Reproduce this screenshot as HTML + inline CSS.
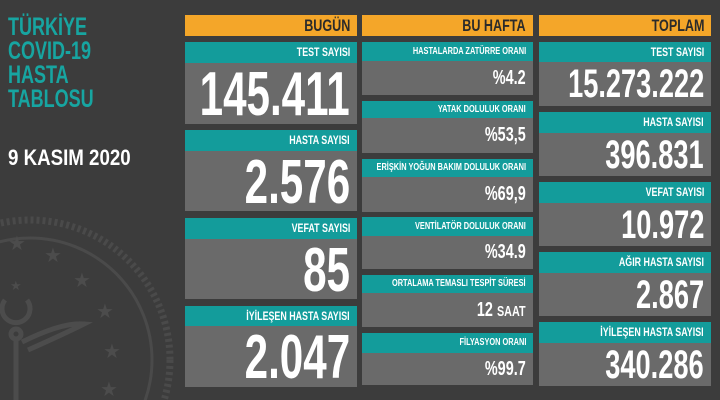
<!DOCTYPE html>
<html style="overflow:hidden"><head><meta charset="utf-8"><style>
*{margin:0;padding:0;box-sizing:border-box}
body{width:720px;height:400px;background:#3c3c3c;position:relative;overflow:hidden;font-family:"Liberation Sans",sans-serif;font-weight:bold}
.a{position:absolute}
.h,.t,.g{white-space:nowrap;overflow:hidden}
.h{background:#f4a629;color:#2b2b2b;font-size:17px;line-height:21px;height:21px}
.t{background:#139c9b;color:#fff}
.g{background:#6a6a6a;color:#fff}
.h span,.t span,.g span{position:absolute;right:7px;top:0;display:block;transform-origin:right center}
.h span,.t span{transform:scaleX(.74)}
.g span{transform:scaleX(.72)}
.g span.n{transform:scaleX(.68)}
.title{color:#17a5a1;font-size:25px;line-height:24px;left:8px;top:15px;transform:scaleX(.72);transform-origin:left top;white-space:nowrap}
</style></head><body>
<svg class="a" style="left:0;top:200px" width="190" height="200">
<g fill="none" stroke="#4a4a4a">
<circle cx="30" cy="160" r="140" stroke-width="7" stroke-dasharray="3 3"/>
<circle cx="30" cy="160" r="122" stroke-width="3"/>
</g>
<g fill="#4c4c4c" font-size="20" font-family="DejaVu Sans">
<text x="8" y="50">★</text><text x="44" y="62">★</text><text x="73" y="87">★</text><text x="96" y="118">★</text><text x="103" y="158">★</text><text x="100" y="196">★</text><text x="10" y="90" font-size="13">★</text>
</g>
<g fill="none" stroke="#4c4c4c" stroke-width="5">
<path d="M5 100 a14 14 0 1 0 22 0"/>
<circle cx="16" cy="134" r="5"/>
<path d="M16 140 v60"/>
<path d="M22 142 q40 -20 62 -18 q-20 10 -56 26"/>
</g>
</svg>
<div class="a title">TÜRKİYE<br>COVID-19<br>HASTA<br>TABLOSU</div>
<div class="a" style="left:8px;top:145px;color:#fff;font-size:22px;transform:scaleX(.85);transform-origin:left top;white-space:nowrap">9 KASIM 2020</div>

<div class="a h" style="left:185px;top:15px;width:172px"><span>BUGÜN</span></div>
<div class="a h" style="left:362px;top:15px;width:171px"><span>BU HAFTA</span></div>
<div class="a h" style="left:539px;top:15px;width:172px"><span>TOPLAM</span></div>

<!-- col1 -->
<div class="a t" style="left:185px;top:42px;width:172px;height:21px;font-size:12px;line-height:21px"><span>TEST SAYISI</span></div>
<div class="a g" style="left:185px;top:63px;width:172px;height:61px;font-size:62px;line-height:63px"><span class="n">145.411</span></div>
<div class="a t" style="left:185px;top:130px;width:172px;height:21px;font-size:12px;line-height:21px"><span>HASTA SAYISI</span></div>
<div class="a g" style="left:185px;top:151px;width:172px;height:60px;font-size:62px;line-height:63px"><span class="n">2.576</span></div>
<div class="a t" style="left:185px;top:218px;width:172px;height:21px;font-size:12px;line-height:21px"><span>VEFAT SAYISI</span></div>
<div class="a g" style="left:185px;top:239px;width:172px;height:60px;font-size:62px;line-height:63px"><span class="n">85</span></div>
<div class="a t" style="left:185px;top:306px;width:172px;height:20px;font-size:12px;line-height:21px"><span>İYİLEŞEN HASTA SAYISI</span></div>
<div class="a g" style="left:185px;top:326px;width:172px;height:61px;font-size:62px;line-height:63px"><span class="n">2.047</span></div>

<!-- col2 -->
<div class="a t" style="left:362px;top:42px;width:171px;height:19px;font-size:10px;line-height:19px"><span>HASTALARDA ZATÜRRE ORANI</span></div>
<div class="a g" style="left:362px;top:61px;width:171px;height:34px;font-size:20px;line-height:34px"><span>%4.2</span></div>
<div class="a t" style="left:362px;top:101px;width:171px;height:17px;font-size:10px;line-height:18px"><span>YATAK DOLULUK ORANI</span></div>
<div class="a g" style="left:362px;top:118px;width:171px;height:35px;font-size:20px;line-height:35px"><span>%53,5</span></div>
<div class="a t" style="left:362px;top:159px;width:171px;height:18px;font-size:10px;line-height:18px"><span>ERİŞKİN YOĞUN BAKIM DOLULUK ORANI</span></div>
<div class="a g" style="left:362px;top:177px;width:171px;height:35px;font-size:20px;line-height:35px"><span>%69,9</span></div>
<div class="a t" style="left:362px;top:217px;width:171px;height:19px;font-size:10px;line-height:19px"><span>VENTİLATÖR DOLULUK ORANI</span></div>
<div class="a g" style="left:362px;top:236px;width:171px;height:33px;font-size:20px;line-height:33px"><span>%34.9</span></div>
<div class="a t" style="left:362px;top:275px;width:171px;height:18px;font-size:10px;line-height:18px"><span>ORTALAMA TEMASLI TESPİT SÜRESİ</span></div>
<div class="a g" style="left:362px;top:293px;width:171px;height:34px;font-size:20px;line-height:34px"><span>12 <small style="font-size:15px">SAAT</small></span></div>
<div class="a t" style="left:362px;top:333px;width:171px;height:20px;font-size:10px;line-height:20px"><span>FİLYASYON ORANI</span></div>
<div class="a g" style="left:362px;top:353px;width:171px;height:32px;font-size:20px;line-height:32px"><span>%99.7</span></div>

<!-- col3 -->
<div class="a t" style="left:539px;top:42px;width:172px;height:20px;font-size:12px;line-height:20px"><span>TEST SAYISI</span></div>
<div class="a g" style="left:539px;top:62px;width:172px;height:44px;font-size:40px;line-height:44px"><span class="n">15.273.222</span></div>
<div class="a t" style="left:539px;top:112px;width:172px;height:21px;font-size:12px;line-height:21px"><span>HASTA SAYISI</span></div>
<div class="a g" style="left:539px;top:133px;width:172px;height:43px;font-size:40px;line-height:44px"><span class="n">396.831</span></div>
<div class="a t" style="left:539px;top:182px;width:172px;height:21px;font-size:12px;line-height:21px"><span>VEFAT SAYISI</span></div>
<div class="a g" style="left:539px;top:203px;width:172px;height:43px;font-size:40px;line-height:44px"><span class="n">10.972</span></div>
<div class="a t" style="left:539px;top:252px;width:172px;height:21px;font-size:12px;line-height:21px"><span>AĞIR HASTA SAYISI</span></div>
<div class="a g" style="left:539px;top:273px;width:172px;height:43px;font-size:40px;line-height:44px"><span class="n">2.867</span></div>
<div class="a t" style="left:539px;top:322px;width:172px;height:21px;font-size:12px;line-height:21px"><span>İYİLEŞEN HASTA SAYISI</span></div>
<div class="a g" style="left:539px;top:343px;width:172px;height:43px;font-size:40px;line-height:44px"><span class="n">340.286</span></div>
</body></html>
